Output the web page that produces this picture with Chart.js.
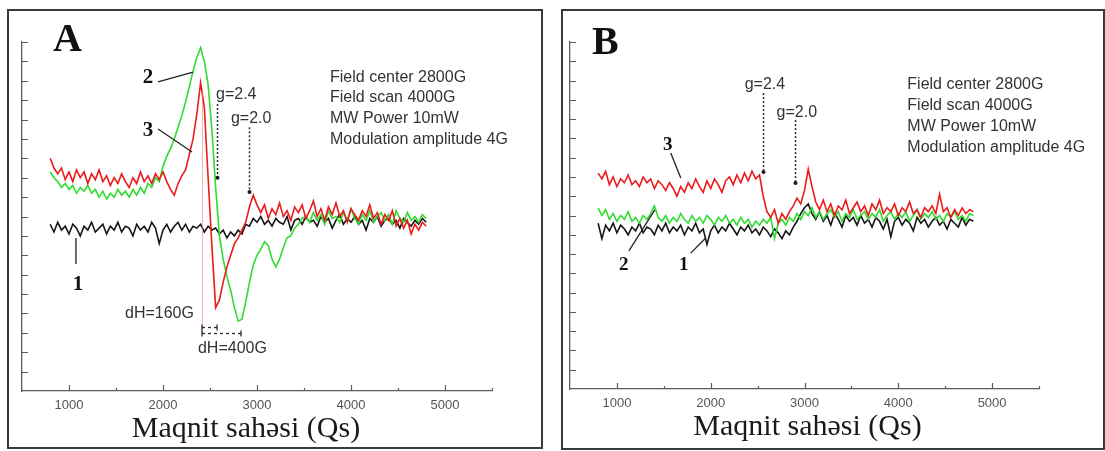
<!DOCTYPE html>
<html>
<head>
<meta charset="utf-8">
<script src="https://cdn.jsdelivr.net/npm/chart.js@4.4.1/dist/chart.umd.min.js"></script>
<style>
  html, body { margin: 0; padding: 0; background: #fff; }
  body { width: 1105px; height: 451px; position: relative; overflow: hidden; }
  .panel { position: absolute; border: 2px solid #3a3a3a; box-sizing: border-box; }
  #boxA { left: 7px; top: 9px; width: 536px; height: 440px; }
  #boxB { left: 561px; top: 9px; width: 544px; height: 441px; }
  canvas { position: absolute; }
  #chartA { left: 9px; top: 11px; }
  #chartB { left: 563px; top: 11px; }
</style>
</head>
<body>
<div class="panel" id="boxA"></div>
<div class="panel" id="boxB"></div>
<canvas id="chartA" width="530" height="435"></canvas>
<canvas id="chartB" width="538" height="436"></canvas>
<script>
// Magnetic field values (G), shared by every curve
const fieldGauss = [800, 840, 880, 920, 960, 1000, 1040, 1080, 1120, 1160,
  1200, 1240, 1280, 1320, 1360, 1400, 1440, 1480, 1520, 1560,
  1600, 1640, 1680, 1720, 1760, 1800, 1840, 1880, 1920, 1960,
  2000, 2040, 2080, 2120, 2160, 2200, 2240, 2280, 2320, 2360,
  2400, 2440, 2480, 2520, 2560, 2600, 2640, 2680, 2720, 2760,
  2800, 2840, 2880, 2920, 2960, 3000, 3040, 3080, 3120, 3160,
  3200, 3240, 3280, 3320, 3360, 3400, 3440, 3480, 3520, 3560,
  3600, 3640, 3680, 3720, 3760, 3800, 3840, 3880, 3920, 3960,
  4000, 4040, 4080, 4120, 4160, 4200, 4240, 4280, 4320, 4360,
  4400, 4440, 4480, 4520, 4560, 4600, 4640, 4680, 4720, 4760,
  4800];

// Panel A spectra (arbitrary units)
const aCurve1 = [8.6, 8.2, 8.7, 8.3, 8.5, 8.1, 8.6, 8.4, 8.0, 8.5,
  8.3, 8.7, 8.2, 8.4, 8.6, 8.1, 8.5, 8.3, 8.7, 8.2,
  8.5, 8.4, 8.0, 8.6, 8.3, 8.5, 8.2, 8.7, 8.4, 7.6,
  8.3, 8.6, 8.2, 8.5, 8.7, 8.3, 8.6, 8.2, 8.5, 8.4,
  8.6, 8.2, 8.5, 8.3, 8.4, 8.1, 8.3, 7.9, 8.2, 8.0,
  8.3, 8.1, 8.6, 8.5, 8.9, 8.7, 9.0, 8.6, 8.8, 8.5,
  8.9, 8.7, 8.6, 9.0, 8.3, 8.8, 8.9, 8.6, 9.0, 8.7,
  8.8, 8.5, 9.0, 8.7, 8.9, 8.4, 8.8, 9.1, 8.6, 8.9,
  8.7, 9.0, 8.6, 8.8, 8.3, 8.9, 8.7, 9.0, 8.5, 8.8,
  8.9, 8.6, 8.8, 8.4, 8.9, 8.7, 8.5, 8.8, 8.6, 8.9,
  8.7];
const aCurve2 = [11.3, 11.0, 10.8, 10.5, 10.7, 10.4, 10.6, 10.2, 10.5, 10.3,
  10.6, 10.2, 10.4, 10.0, 10.3, 9.9, 10.2, 10.0, 10.4, 10.1,
  10.3, 10.0, 10.4, 10.1, 10.5, 10.2, 10.7, 10.5, 11.0, 10.8,
  11.6, 12.1, 12.5, 13.0, 13.6, 14.2, 14.9, 15.7, 16.5, 17.2,
  17.7, 17.0, 15.8, 13.5, 10.5, 8.0, 6.8, 5.9, 5.2, 4.3,
  3.6, 3.7, 4.6, 5.6, 6.5, 7.0, 7.3, 7.7, 7.5, 6.8,
  6.4, 6.8, 7.4, 7.9, 8.0, 8.4, 8.6, 8.9, 9.0, 8.7,
  9.2, 8.8, 9.1, 8.6, 9.3, 8.9, 9.0, 8.7, 9.2, 8.8,
  9.4, 8.9, 8.6, 9.1, 8.8, 9.3, 8.7, 9.0, 9.2, 8.8,
  9.1, 8.6, 9.3, 8.9, 8.7, 9.2, 8.8, 9.0, 8.7, 9.1,
  8.9];
const aCurve3 = [12.0, 11.5, 11.2, 11.5, 10.9, 11.3, 10.8, 11.4, 11.0, 11.3,
  10.7, 11.2, 10.9, 11.4, 10.8, 11.1, 10.6, 11.0, 10.7, 11.2,
  10.8, 10.5, 11.0, 10.7, 11.3, 10.8, 11.1, 10.7, 11.2, 10.9,
  11.3, 10.8, 10.4, 10.1, 10.7, 11.1, 11.4, 12.2, 13.0, 14.3,
  15.9, 14.6, 11.0, 7.5, 4.3, 4.7, 5.6, 6.4, 7.0, 7.6,
  7.9, 8.3, 8.7, 9.5, 10.1, 9.6, 9.2, 9.6, 8.9, 9.4,
  9.1, 9.7, 9.0, 9.3, 8.8, 9.5, 9.2, 9.6, 8.9, 9.3,
  9.8, 9.0, 9.4, 8.8, 9.5, 9.1, 9.7, 9.0, 9.3, 8.7,
  9.4, 9.1, 8.8, 9.3, 9.0, 9.6, 8.9, 9.2, 8.6, 9.1,
  8.8, 9.3, 8.5, 8.9, 8.4, 8.8, 8.1, 8.6, 8.3, 8.7,
  8.5];

// Panel B spectra
const bCurve1 = [8.6, 7.8, 8.5, 8.2, 8.6, 8.1, 8.5, 8.3, 8.0, 8.4,
  8.2, 8.6, 8.1, 8.4, 8.3, 8.0, 8.5, 8.2, 8.6, 8.1,
  8.4, 8.2, 8.5, 8.0, 8.4, 8.2, 8.6, 8.1, 8.3, 7.5,
  8.2, 8.5, 8.1, 8.4, 8.2, 8.6, 8.3, 8.0, 8.4, 8.2,
  8.5, 8.1, 8.3, 8.0, 8.4, 8.2, 7.9, 8.3, 8.1, 7.8,
  8.2, 8.0, 8.4, 8.7, 9.1, 9.4, 9.6, 9.1, 8.8, 9.2,
  8.7, 9.0, 8.5, 9.1, 8.8, 8.4, 9.0, 8.7, 8.9, 8.5,
  9.0, 8.6, 8.8, 8.4, 8.9, 8.7, 8.3, 8.8, 7.9, 8.7,
  8.9, 8.5, 8.8, 8.6, 8.2, 8.9, 8.6, 8.8, 8.4, 8.7,
  8.9, 8.5, 8.7, 8.3, 8.8, 8.6, 8.4, 8.9, 8.5, 8.8,
  8.7];
const bCurve2 = [9.4, 9.0, 9.3, 8.8, 9.1, 8.7, 9.0, 8.8, 9.2, 8.7,
  8.9, 8.6, 9.0, 8.8, 9.1, 9.5, 8.9, 8.7, 9.0, 8.6,
  8.9, 8.7, 9.1, 8.8, 8.6, 9.0, 8.7, 8.9, 8.6, 9.0,
  8.8, 8.5, 8.9, 8.7, 9.0, 8.6, 8.8, 8.5, 8.9, 8.6,
  8.8, 8.4, 8.7, 8.5, 8.8, 8.6, 8.9, 7.8, 8.6, 8.8,
  8.5, 8.9, 8.7, 9.1, 8.8, 9.2, 9.0, 9.4, 8.9, 9.2,
  8.8, 9.1, 9.3, 8.9, 9.2, 8.7, 9.1, 8.9, 9.3, 8.8,
  9.0, 9.2, 8.8, 9.1, 8.9, 9.3, 8.7, 9.0, 9.2, 8.8,
  9.1, 8.9, 9.2, 8.7, 9.0, 9.3, 8.8, 9.1, 8.9, 9.2,
  8.8, 9.0, 8.7, 9.1, 8.9, 9.2, 8.8, 9.0, 8.7, 9.1,
  9.0];
const bCurve3 = [11.2, 10.9, 11.3, 10.6, 11.0, 10.5, 10.9, 10.7, 11.1, 10.6,
  10.8, 10.5, 11.0, 10.7, 10.9, 10.4, 10.8, 10.6, 10.3, 10.7,
  10.4, 10.0, 10.5, 10.2, 10.7, 10.4, 10.9, 10.5, 10.2, 10.8,
  10.4, 10.9, 10.6, 10.2, 10.8, 11.0, 10.6, 11.1, 10.7, 11.2,
  10.8, 11.3, 10.9, 11.1, 10.0, 9.2, 8.9, 9.3, 8.6, 9.1,
  8.8, 9.2, 9.5, 9.9, 9.6, 10.3, 11.4, 10.5, 9.7, 9.3,
  9.8, 9.2, 9.6, 9.0, 9.5, 9.3, 9.8, 9.1, 9.4, 9.7,
  9.2, 9.5, 9.0, 9.6, 9.3, 9.8, 9.1, 9.4, 9.2, 9.6,
  9.0, 9.4, 9.2, 9.7, 9.1, 9.3, 8.9, 9.4, 9.2, 9.5,
  9.1, 10.1, 9.2, 9.4, 8.9, 9.3, 9.0, 9.4, 9.1, 9.3,
  9.2];

const xTickLabels = [1000, 2000, 3000, 4000, 5000];
const xTickMarks = [1000, 1500, 2000, 2500, 3000, 3500, 4000, 4500, 5000, 5500];
const yTickMarks = [1, 2, 3, 4, 5, 6, 7, 8, 9, 10, 11, 12, 13, 14, 15, 16, 17, 18];
const infoLines = ['Field center 2800G', 'Field scan 4000G', 'MW Power 10mW', 'Modulation amplitude 4G'];
const axisTitle = 'Maqnit sahəsi (Qs)';

const RED = '#ec1b1b';
const GREEN = '#2fdc2f';
const BLACK = '#161616';
const AXIS = '#5c5c5c';
const NOTE = '#333333';
const SANS = '"Liberation Sans", Arial, sans-serif';
const SERIF = '"Liberation Serif", "Times New Roman", serif';

// annotation placement, in data units of each panel
const notesA = {
  letter: { text: 'A', x: 830, y: 18.05 },
  info: { x: 3777, y: [16.19, 15.11, 14.03, 12.95] },
  gMarks: [
    { text: 'g=2.4', tx: 2564, ty: 15.27, x: 2575, y1: 14.8, y2: 11.0 },
    { text: 'g=2.0', tx: 2723, ty: 14.03, x: 2915, y1: 13.6, y2: 10.26 }
  ],
  numbers: [
    { text: '2', x: 1840, y: 16.14, from: [1947, 15.94], to: [2319, 16.45] },
    { text: '3', x: 1840, y: 13.41, from: [1947, 13.51], to: [2309, 12.33] },
    { text: '1', x: 1096, y: 5.47, from: [1074, 7.89], to: [1074, 6.55] }
  ],
  numSize: 21,
  widths: [
    { text: 'dH=160G', tx: 1596, ty: 3.97, x1: 2415, x2: 2575, y: 3.30 },
    { text: 'dH=400G', tx: 2372, ty: 2.17, x1: 2415, x2: 2830, y: 2.99 }
  ],
  guide: { x: 2415, y1: 15.6, y2: 3.0 },
  titleX: 2883
};

const notesB = {
  letter: { text: 'B', x: 734, y: 17.9 },
  info: { x: 4096, y: [15.77, 14.68, 13.59, 12.50] },
  gMarks: [
    { text: 'g=2.4', tx: 2362, ty: 15.77, x: 2553, y1: 15.35, y2: 11.26 },
    { text: 'g=2.0', tx: 2702, ty: 14.32, x: 2894, y1: 13.95, y2: 10.69 }
  ],
  numbers: [
    { text: '3', x: 1543, y: 12.66, from: [1574, 12.24], to: [1681, 10.94] },
    { text: '2', x: 1074, y: 6.45, from: [1128, 7.16], to: [1404, 9.29] },
    { text: '1', x: 1713, y: 6.45, from: [1787, 7.05], to: [1947, 7.83] }
  ],
  numSize: 19,
  widths: [],
  guide: null,
  titleX: 3032
};

function decor(notes) {
  return {
    id: 'decor',
    afterDraw(chart) {
      const { ctx, chartArea: area } = chart;
      const X = v => chart.scales.x.getPixelForValue(v);
      const Y = v => chart.scales.y.getPixelForValue(v);
      const text = (str, x, y, font, color, align) => {
        ctx.font = font;
        ctx.fillStyle = color;
        ctx.textAlign = align || 'left';
        ctx.textBaseline = 'middle';
        ctx.fillText(str, x, y);
      };
      ctx.save();

      // inward tick marks
      ctx.strokeStyle = AXIS;
      ctx.lineWidth = 1.2;
      ctx.beginPath();
      xTickMarks.forEach(v => {
        const p = Math.round(X(v)) + 0.5;
        const len = xTickLabels.includes(v) ? 6 : 3;
        ctx.moveTo(p, area.bottom);
        ctx.lineTo(p, area.bottom - len);
      });
      yTickMarks.forEach(v => {
        const p = Math.round(Y(v)) + 0.5;
        ctx.moveTo(area.left, p);
        ctx.lineTo(area.left + 6, p);
      });
      ctx.stroke();

      // pale guide at the line centre
      if (notes.guide) {
        ctx.strokeStyle = 'rgba(236, 120, 120, 0.55)';
        ctx.lineWidth = 1;
        ctx.beginPath();
        ctx.moveTo(Math.round(X(notes.guide.x)) + 0.5, Y(notes.guide.y1));
        ctx.lineTo(Math.round(X(notes.guide.x)) + 0.5, Y(notes.guide.y2));
        ctx.stroke();
      }

      // g-factor markers
      notes.gMarks.forEach(g => {
        const gx = Math.round(X(g.x)) + 0.5;
        ctx.strokeStyle = '#2a2a2a';
        ctx.lineWidth = 1.5;
        ctx.setLineDash([2, 2]);
        ctx.beginPath();
        ctx.moveTo(gx, Y(g.y1));
        ctx.lineTo(gx, Y(g.y2));
        ctx.stroke();
        ctx.setLineDash([]);
        ctx.fillStyle = '#1a1a1a';
        ctx.beginPath();
        ctx.arc(gx, Y(g.y2), 2, 0, Math.PI * 2);
        ctx.fill();
        text(g.text, X(g.tx), Y(g.ty), '16px ' + SANS, NOTE);
      });

      // line width brackets
      notes.widths.forEach(w => {
        const wy = Math.round(Y(w.y)) + 0.5;
        ctx.strokeStyle = '#2a2a2a';
        ctx.lineWidth = 1.3;
        ctx.setLineDash([3, 3]);
        ctx.beginPath();
        ctx.moveTo(X(w.x1), wy);
        ctx.lineTo(X(w.x2), wy);
        ctx.stroke();
        ctx.setLineDash([]);
        ctx.beginPath();
        ctx.moveTo(X(w.x1), wy - 3);
        ctx.lineTo(X(w.x1), wy + 3);
        ctx.moveTo(X(w.x2), wy - 3);
        ctx.lineTo(X(w.x2), wy + 3);
        ctx.stroke();
        text(w.text, X(w.tx), Y(w.ty), '16px ' + SANS, NOTE);
      });

      // curve numbers with leader lines
      notes.numbers.forEach(n => {
        ctx.strokeStyle = '#222';
        ctx.lineWidth = 1.3;
        ctx.beginPath();
        ctx.moveTo(X(n.from[0]), Y(n.from[1]));
        ctx.lineTo(X(n.to[0]), Y(n.to[1]));
        ctx.stroke();
        text(n.text, X(n.x), Y(n.y), 'bold ' + notes.numSize + 'px ' + SERIF, '#111', 'center');
      });

      // measurement conditions
      notes.info.y.forEach((yv, i) => {
        text(infoLines[i], X(notes.info.x), Y(yv), '16px ' + SANS, NOTE);
      });

      // panel letter
      text(notes.letter.text, X(notes.letter.x), Y(notes.letter.y), 'bold 40px ' + SERIF, '#111');

      // axis title
      ctx.font = '30px ' + SERIF;
      ctx.fillStyle = '#1a1a1a';
      ctx.textAlign = 'center';
      ctx.textBaseline = 'alphabetic';
      ctx.fillText(axisTitle, X(notes.titleX), area.bottom + 46);

      ctx.restore();
    }
  };
}

function makePanel(canvasId, curves, notes, padding) {
  const points = arr => fieldGauss.map((g, i) => ({ x: g, y: arr[i] }));
  return new Chart(document.getElementById(canvasId), {
    type: 'line',
    data: {
      datasets: [
        { label: '3', data: points(curves[2]), borderColor: RED },
        { label: '2', data: points(curves[1]), borderColor: GREEN },
        { label: '1', data: points(curves[0]), borderColor: BLACK }
      ]
    },
    options: {
      responsive: false,
      animation: false,
      devicePixelRatio: 1,
      layout: { padding },
      elements: {
        point: { radius: 0 },
        line: { borderWidth: 1.6, tension: 0 }
      },
      plugins: {
        legend: { display: false },
        tooltip: { enabled: false }
      },
      scales: {
        x: {
          type: 'linear',
          min: 500,
          max: 5500,
          afterBuildTicks: s => { s.ticks = xTickLabels.map(v => ({ value: v })); },
          afterFit: s => { s.height = 50; },
          grid: { display: false, drawTicks: false },
          border: { display: true, color: AXIS, width: 1.3 },
          ticks: {
            autoSkip: false,
            maxRotation: 0,
            padding: 7,
            color: '#555',
            font: { family: SANS, size: 13 },
            callback: v => String(v)
          }
        },
        y: {
          min: 0,
          max: 18,
          afterFit: s => { s.width = 0; },
          grid: { display: false, drawTicks: false },
          border: { display: true, color: AXIS, width: 1.3 },
          ticks: { display: false }
        }
      }
    },
    plugins: [decor(notes)]
  });
}

makePanel('chartA', [aCurve1, aCurve2, aCurve3], notesA, { left: 13, right: 47, top: 31, bottom: 5 });
makePanel('chartB', [bCurve1, bCurve2, bCurve3], notesB, { left: 7, right: 62, top: 31, bottom: 8 });
</script>
</body>
</html>
